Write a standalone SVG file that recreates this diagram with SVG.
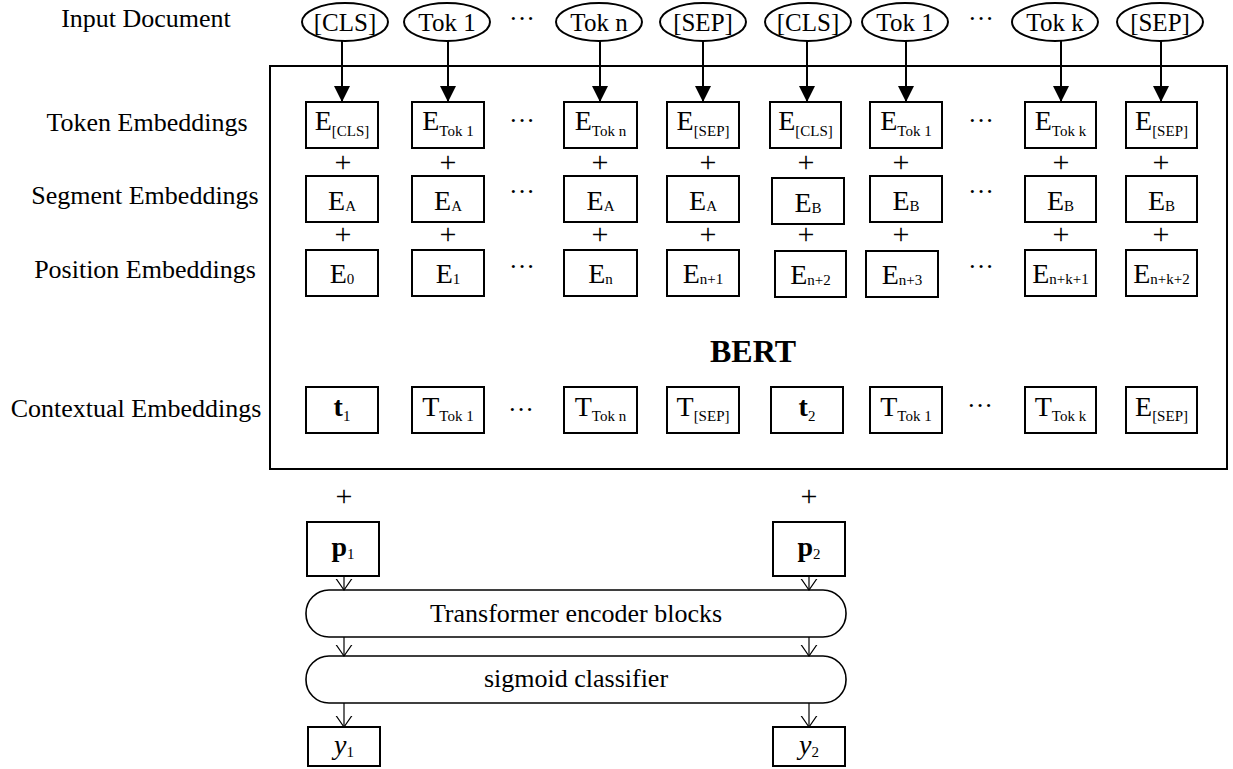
<svg xmlns="http://www.w3.org/2000/svg" width="1233" height="769" viewBox="0 0 1233 769" font-family="'Liberation Serif', 'Times New Roman', serif">
  <style>
    .lbl, .tok, .emb, .plus, .dots, .ttl { font-family: 'Liberation Serif', 'Times New Roman', serif; fill: #000; }
    .lbl { font-size: 26px; text-anchor: middle; }
    .tok { font-size: 25px; text-anchor: middle; }
    .emb { font-size: 28px; text-anchor: middle; }
    .sub { font-size: 15px; }
    .plus { font-size: 30px; text-anchor: middle; }
    .dots { font-size: 26px; text-anchor: middle; }
    .ttl { font-size: 32px; font-weight: bold; text-anchor: middle; }
    .bold { font-weight: bold; }
    .box { fill: #fff; stroke: #000; stroke-width: 2; }
    .oval { fill: #fff; stroke: #000; stroke-width: 2; }
    .frame { fill: none; stroke: #000; stroke-width: 2; }
    .pill { fill: #fff; stroke: #000; stroke-width: 1.6; }
    .thick { stroke: #000; stroke-width: 2; fill: none; marker-end: url(#solid); }
    .thin { stroke: #000; stroke-width: 1.2; fill: none; marker-end: url(#open); }
  </style>
  <defs>
    <marker id="solid" viewBox="0 0 16 16" markerWidth="16" markerHeight="16" refX="16" refY="8" orient="auto" markerUnits="userSpaceOnUse">
      <path d="M0,0 L16,8 L0,16 Z" fill="#000"/>
    </marker>
    <marker id="open" viewBox="0 0 12 18" markerWidth="12" markerHeight="18" refX="11.5" refY="9" orient="auto" markerUnits="userSpaceOnUse">
      <path d="M0,1 L11.5,9 L0,17" fill="none" stroke="#000" stroke-width="1.2"/>
    </marker>
  </defs>

  <rect width="1233" height="769" fill="#fff"/>

  <!-- row labels -->
  <g id="row-labels">
    <text class="lbl" x="146" y="27">Input Document</text>
    <text class="lbl" x="147" y="131">Token Embeddings</text>
    <text class="lbl" x="145" y="204">Segment Embeddings</text>
    <text class="lbl" x="145" y="278">Position Embeddings</text>
    <text class="lbl" x="136" y="417">Contextual Embeddings</text>
  </g>

  <!-- BERT frame -->
  <g id="bert">
    <rect class="frame" x="270" y="66" width="957" height="403"/>
    <text class="ttl" x="753" y="362">BERT</text>
  </g>

  <!-- input tokens -->
  <g id="input-tokens">
    <g id="in-cls1"><ellipse class="oval" cx="345" cy="22" rx="43" ry="19"/><text class="tok" x="345" y="31">[CLS]</text></g>
    <g id="in-tok1a"><ellipse class="oval" cx="447" cy="22" rx="43" ry="19"/><text class="tok" x="447" y="31">Tok 1</text></g>
    <g id="in-tokn"><ellipse class="oval" cx="599" cy="22" rx="43" ry="19"/><text class="tok" x="599" y="31">Tok n</text></g>
    <g id="in-sep1"><ellipse class="oval" cx="703" cy="22" rx="43" ry="19"/><text class="tok" x="703" y="31">[SEP]</text></g>
    <g id="in-cls2"><ellipse class="oval" cx="808" cy="22" rx="43" ry="19"/><text class="tok" x="808" y="31">[CLS]</text></g>
    <g id="in-tok1b"><ellipse class="oval" cx="905" cy="22" rx="43" ry="19"/><text class="tok" x="905" y="31">Tok 1</text></g>
    <g id="in-tokk"><ellipse class="oval" cx="1055" cy="22" rx="43" ry="19"/><text class="tok" x="1055" y="31">Tok k</text></g>
    <g id="in-sep2"><ellipse class="oval" cx="1160" cy="22" rx="43" ry="19"/><text class="tok" x="1160" y="31">[SEP]</text></g>
    <text class="dots" x="522" y="27">···</text>
    <text class="dots" x="981" y="27">···</text>
  </g>

  <!-- token embeddings -->
  <g id="token-embeddings">
    <g id="te1"><rect class="box" x="306" y="102" width="72" height="46"/><text class="emb" x="342" y="130">E<tspan class="sub" dy="6">[CLS]</tspan></text></g>
    <g id="te2"><rect class="box" x="412" y="102" width="72" height="46"/><text class="emb" x="448" y="130">E<tspan class="sub" dy="6">Tok 1</tspan></text></g>
    <g id="te3"><rect class="box" x="564" y="102" width="73" height="46"/><text class="emb" x="600.5" y="130">E<tspan class="sub" dy="6">Tok n</tspan></text></g>
    <g id="te4"><rect class="box" x="667" y="102" width="72" height="46"/><text class="emb" x="703" y="130">E<tspan class="sub" dy="6">[SEP]</tspan></text></g>
    <g id="te5"><rect class="box" x="770" y="102" width="71" height="46"/><text class="emb" x="805.5" y="130">E<tspan class="sub" dy="6">[CLS]</tspan></text></g>
    <g id="te6"><rect class="box" x="870" y="102" width="72" height="46"/><text class="emb" x="906" y="130">E<tspan class="sub" dy="6">Tok 1</tspan></text></g>
    <g id="te7"><rect class="box" x="1025" y="102" width="71" height="46"/><text class="emb" x="1060.5" y="130">E<tspan class="sub" dy="6">Tok k</tspan></text></g>
    <g id="te8"><rect class="box" x="1126" y="102" width="71" height="46"/><text class="emb" x="1161.5" y="130">E<tspan class="sub" dy="6">[SEP]</tspan></text></g>
    <text class="dots" x="522" y="129">···</text>
    <text class="dots" x="981" y="129">···</text>
  </g>

  <!-- plus signs between embedding rows -->
  <g id="plus-signs">
    <text class="plus" x="343" y="172">+</text>
    <text class="plus" x="448" y="172">+</text>
    <text class="plus" x="600" y="172">+</text>
    <text class="plus" x="708" y="172">+</text>
    <text class="plus" x="806" y="172">+</text>
    <text class="plus" x="901" y="172">+</text>
    <text class="plus" x="1061" y="172">+</text>
    <text class="plus" x="1161" y="172">+</text>
    <text class="plus" x="343" y="244">+</text>
    <text class="plus" x="448" y="244">+</text>
    <text class="plus" x="600" y="244">+</text>
    <text class="plus" x="708" y="244">+</text>
    <text class="plus" x="806" y="244">+</text>
    <text class="plus" x="901" y="244">+</text>
    <text class="plus" x="1061" y="244">+</text>
    <text class="plus" x="1161" y="244">+</text>
  </g>

  <!-- segment embeddings -->
  <g id="segment-embeddings">
    <g id="se1"><rect class="box" x="306" y="176" width="72" height="46"/><text class="emb" x="342" y="210">E<tspan class="sub" dy="1">A</tspan></text></g>
    <g id="se2"><rect class="box" x="412" y="176" width="72" height="46"/><text class="emb" x="448" y="210">E<tspan class="sub" dy="1">A</tspan></text></g>
    <g id="se3"><rect class="box" x="564" y="176" width="73" height="46"/><text class="emb" x="600.5" y="210">E<tspan class="sub" dy="1">A</tspan></text></g>
    <g id="se4"><rect class="box" x="667" y="176" width="72" height="46"/><text class="emb" x="703" y="210">E<tspan class="sub" dy="1">A</tspan></text></g>
    <g id="se5"><rect class="box" x="772" y="178" width="72" height="46"/><text class="emb" x="808" y="212">E<tspan class="sub" dy="1">B</tspan></text></g>
    <g id="se6"><rect class="box" x="870" y="176" width="72" height="46"/><text class="emb" x="906" y="210">E<tspan class="sub" dy="1">B</tspan></text></g>
    <g id="se7"><rect class="box" x="1025" y="176" width="71" height="46"/><text class="emb" x="1060.5" y="210">E<tspan class="sub" dy="1">B</tspan></text></g>
    <g id="se8"><rect class="box" x="1126" y="176" width="71" height="46"/><text class="emb" x="1161.5" y="210">E<tspan class="sub" dy="1">B</tspan></text></g>
    <text class="dots" x="522" y="200">···</text>
    <text class="dots" x="981" y="200">···</text>
  </g>

  <!-- position embeddings -->
  <g id="position-embeddings">
    <g id="pe1"><rect class="box" x="306" y="250" width="72" height="46"/><text class="emb" x="342" y="283">E<tspan class="sub" dy="1">0</tspan></text></g>
    <g id="pe2"><rect class="box" x="412" y="250" width="72" height="46"/><text class="emb" x="448" y="283">E<tspan class="sub" dy="1">1</tspan></text></g>
    <g id="pe3"><rect class="box" x="564" y="250" width="73" height="46"/><text class="emb" x="600.5" y="283">E<tspan class="sub" dy="1">n</tspan></text></g>
    <g id="pe4"><rect class="box" x="667" y="250" width="72" height="46"/><text class="emb" x="703" y="283">E<tspan class="sub" dy="1">n+1</tspan></text></g>
    <g id="pe5"><rect class="box" x="775" y="251" width="71" height="46"/><text class="emb" x="810.5" y="284">E<tspan class="sub" dy="1">n+2</tspan></text></g>
    <g id="pe6"><rect class="box" x="866" y="251" width="72" height="46"/><text class="emb" x="902" y="284">E<tspan class="sub" dy="1">n+3</tspan></text></g>
    <g id="pe7"><rect class="box" x="1025" y="250" width="71" height="46"/><text class="emb" x="1060.5" y="283">E<tspan class="sub" dy="1">n+k+1</tspan></text></g>
    <g id="pe8"><rect class="box" x="1126" y="250" width="71" height="46"/><text class="emb" x="1161.5" y="283">E<tspan class="sub" dy="1">n+k+2</tspan></text></g>
    <text class="dots" x="522" y="275">···</text>
    <text class="dots" x="981" y="275">···</text>
  </g>

  <!-- contextual embeddings -->
  <g id="contextual-embeddings">
    <g id="ce1"><rect class="box" x="306" y="387" width="72" height="46"/><text class="emb" x="342" y="416"><tspan class="bold">t</tspan><tspan class="sub" dy="5">1</tspan></text></g>
    <g id="ce2"><rect class="box" x="412" y="387" width="72" height="46"/><text class="emb" x="448" y="416">T<tspan class="sub" dy="5">Tok 1</tspan></text></g>
    <g id="ce3"><rect class="box" x="564" y="387" width="73" height="46"/><text class="emb" x="600.5" y="416">T<tspan class="sub" dy="5">Tok n</tspan></text></g>
    <g id="ce4"><rect class="box" x="667" y="387" width="72" height="46"/><text class="emb" x="703" y="416">T<tspan class="sub" dy="5">[SEP]</tspan></text></g>
    <g id="ce5"><rect class="box" x="771" y="387" width="72" height="46"/><text class="emb" x="807" y="416"><tspan class="bold">t</tspan><tspan class="sub" dy="5">2</tspan></text></g>
    <g id="ce6"><rect class="box" x="870" y="387" width="72" height="46"/><text class="emb" x="906" y="416">T<tspan class="sub" dy="5">Tok 1</tspan></text></g>
    <g id="ce7"><rect class="box" x="1025" y="387" width="71" height="46"/><text class="emb" x="1060.5" y="416">T<tspan class="sub" dy="5">Tok k</tspan></text></g>
    <g id="ce8"><rect class="box" x="1126" y="387" width="71" height="46"/><text class="emb" x="1161.5" y="416">E<tspan class="sub" dy="5">[SEP]</tspan></text></g>
    <text class="dots" x="521" y="418">···</text>
    <text class="dots" x="980" y="414">···</text>
  </g>

  <!-- classification head -->
  <g id="p1">
    <text class="plus" x="344" y="506">+</text>
    <rect class="box" x="307" y="522" width="72" height="54"/>
    <text class="emb" x="343" y="556"><tspan class="bold">p</tspan><tspan class="sub" dy="3">1</tspan></text>
  </g>
  <g id="p2">
    <text class="plus" x="809" y="506">+</text>
    <rect class="box" x="773" y="522" width="72" height="54"/>
    <text class="emb" x="809" y="556"><tspan class="bold">p</tspan><tspan class="sub" dy="3">2</tspan></text>
  </g>
  <g id="encoder">
    <rect class="pill" x="306" y="590" width="540" height="47" rx="23" ry="23"/>
    <text class="lbl" x="576" y="622">Transformer encoder blocks</text>
  </g>
  <g id="classifier">
    <rect class="pill" x="306" y="656" width="540" height="47" rx="23" ry="23"/>
    <text class="lbl" x="576" y="687">sigmoid classifier</text>
  </g>
  <g id="y1">
    <rect class="box" x="308" y="727" width="72" height="39"/>
    <text class="emb" x="344" y="754"><tspan font-style="italic">y</tspan><tspan class="sub" dy="3">1</tspan></text>
  </g>
  <g id="y2">
    <rect class="box" x="773" y="727" width="72" height="39"/>
    <text class="emb" x="809" y="754"><tspan font-style="italic">y</tspan><tspan class="sub" dy="3">2</tspan></text>
  </g>

  <!-- connectors -->
  <g id="connectors">
    <line class="thick" x1="342" y1="41" x2="342" y2="102"/>
    <line class="thick" x1="448" y1="41" x2="448" y2="102"/>
    <line class="thick" x1="600" y1="41" x2="600" y2="102"/>
    <line class="thick" x1="703" y1="41" x2="703" y2="102"/>
    <line class="thick" x1="807" y1="41" x2="807" y2="102"/>
    <line class="thick" x1="906" y1="41" x2="906" y2="102"/>
    <line class="thick" x1="1061" y1="41" x2="1061" y2="102"/>
    <line class="thick" x1="1161" y1="41" x2="1161" y2="102"/>

    <line class="thin" x1="344" y1="576" x2="344" y2="590"/>
    <line class="thin" x1="809" y1="576" x2="809" y2="590"/>
    <line class="thin" x1="344" y1="637" x2="344" y2="656"/>
    <line class="thin" x1="809" y1="637" x2="809" y2="656"/>
    <line class="thin" x1="344" y1="703" x2="344" y2="727"/>
    <line class="thin" x1="809" y1="703" x2="809" y2="727"/>
  </g>
</svg>
